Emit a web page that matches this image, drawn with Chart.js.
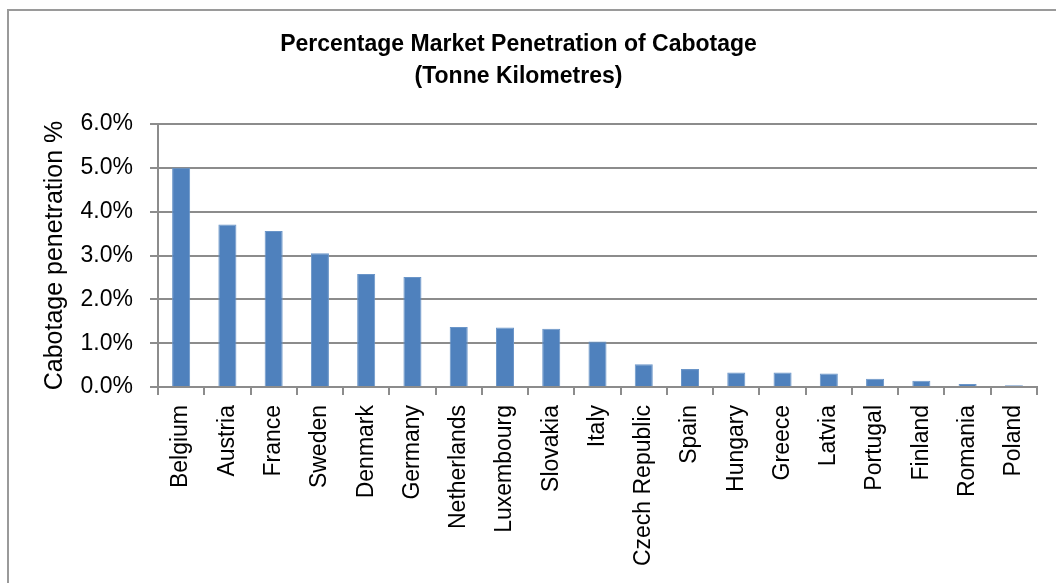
<!DOCTYPE html>
<html>
<head>
<meta charset="utf-8">
<script src="https://cdn.jsdelivr.net/npm/chart.js@4/dist/chart.umd.min.js"></script>
<style>
  html, body { margin: 0; padding: 0; background: #fff; }
  #wrap { position: relative; width: 1056px; height: 583px; overflow: hidden; }
  #frame { position: absolute; left: 7px; top: 9px; width: 1100px; height: 700px;
           border-left: 2px solid #9a9a9a; border-top: 2px solid #9a9a9a; box-sizing: border-box; }
  canvas { position: absolute; left: 0; top: 0; }
</style>
</head>
<body>
<div id="wrap">
  <div id="frame"></div>
  <canvas id="c" width="1056" height="583"></canvas>
</div>
<script>
const categories = ["Belgium", "Austria", "France", "Sweden", "Denmark", "Germany", "Netherlands",
  "Luxembourg", "Slovakia", "Italy", "Czech Republic", "Spain", "Hungary", "Greece", "Latvia",
  "Portugal", "Finland", "Romania", "Poland"];
const penetration = [5.00, 3.71, 3.56, 3.05, 2.58, 2.51, 1.37, 1.36, 1.33, 1.04, 0.52, 0.41,
  0.33, 0.33, 0.31, 0.19, 0.14, 0.07, 0.04];
const titleLines = ["Percentage Market Penetration of Cabotage", "(Tonne Kilometres)"];
const yAxisTitle = "Cabotage penetration %";
const yMin = 0, yMax = 6, yStep = 1;

const FONT = "'Liberation Sans', Arial, sans-serif";
const GRID = '#8c8c8c';

new Chart(document.getElementById('c'), {
  type: 'bar',
  data: {
    labels: categories,
    datasets: [{
      data: penetration,
      backgroundColor: '#4f81bd',
      borderColor: '#6a95c8',
      borderWidth: { top: 1, left: 1, right: 1, bottom: 0 },
      barPercentage: 0.39,
      categoryPercentage: 1.0
    }]
  },
  options: {
    responsive: false,
    animation: false,
    devicePixelRatio: 1,
    layout: { padding: { top: 29, right: 19, bottom: 0, left: 0 } },
    plugins: {
      legend: { display: false },
      tooltip: { enabled: false },
      title: {
        display: true,
        text: titleLines,
        color: '#000',
        font: { family: FONT, size: 23, weight: 'bold', lineHeight: 32 / 23 },
        padding: { top: 0, bottom: 31 }
      }
    },
    scales: {
      x: {
        grid: { display: true, drawOnChartArea: false, drawTicks: true, tickLength: 8,
                color: GRID, lineWidth: 2, offset: true },
        border: { display: true, color: GRID, width: 2 },
        ticks: { color: '#000', font: { family: FONT, size: 23 }, minRotation: 90, maxRotation: 90,
                 padding: 10, autoSkip: false },
        afterFit: (s) => { s.height = 196; }
      },
      y: {
        min: yMin, max: yMax,
        grid: { color: GRID, lineWidth: 2, drawTicks: true, tickLength: 8 },
        border: { display: true, color: GRID, width: 2 },
        ticks: { stepSize: yStep, color: '#000', font: { family: FONT, size: 23 }, padding: 17,
                 callback: (v) => Number(v).toFixed(1) + '%' },
        title: { display: true, text: yAxisTitle, color: '#000',
                 font: { family: FONT, size: 25, lineHeight: 1.2 }, padding: { top: 40, bottom: 0 } },
        afterFit: (s) => { s.width = 158; }
      }
    }
  }
});
</script>
</body>
</html>
